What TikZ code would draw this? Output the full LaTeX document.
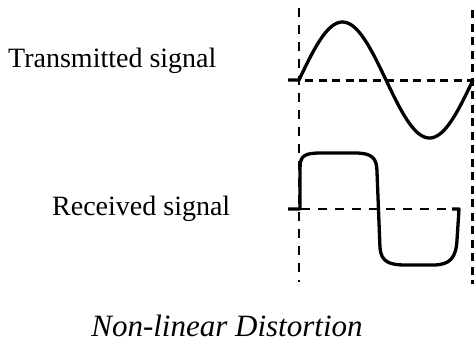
\documentclass[tikz,border=0pt]{standalone}
\usepackage{fontspec}
\setmainfont{Liberation Serif}
\usepackage{tikz}
\usetikzlibrary{positioning}

\begin{document}
\begin{tikzpicture}[x=1pt, y=-1pt,
  sig/.style={line width=3.3pt, line join=round},
  thindash/.style={line width=1.2pt, dash pattern=on 9pt off 8pt},
  thickdash/.style={line width=3pt, dash pattern=on 8pt off 5.5pt},
  lbl/.style={font=\fontsize{28}{30}\selectfont, inner sep=0pt, anchor=base west}]
\useasboundingbox (0,0) rectangle (476,343);
% guide lines
\draw[thindash] (299,8) -- (299,282);
\draw[thickdash] (472,10) -- (472,284);
\draw[thickdash] (305,80) -- (472,80);
\draw[thindash] (301,209) -- (450,209);
% transmitted
\draw[sig] (288,80) -- (299,80) -- plot[domain=0:360, samples=80, smooth] ({299+0.48333*\x},{80-58*sin(\x)});
% received
\draw[sig] (288,209) -- (300,209) -- (300,168)
  .. controls (300,155) and (305,153) .. (322,153) -- (355,153)
  .. controls (372,153) and (377,158) .. (377,172) -- (380,248)
  .. controls (381,262) and (390,265) .. (405,265) -- (433,265)
  .. controls (450,265) and (456,258) .. (457,240) -- (459,209) -- (452,209);
\node[lbl] (tx) at (8,67) {Transmitted signal};
\node[lbl] (rx) at (52,215) {Received signal};
\node[font=\fontsize{31}{34}\selectfont\itshape, inner sep=0pt, anchor=base] (title) at (227,336) {Non-linear Distortion};
\end{tikzpicture}
\end{document}
